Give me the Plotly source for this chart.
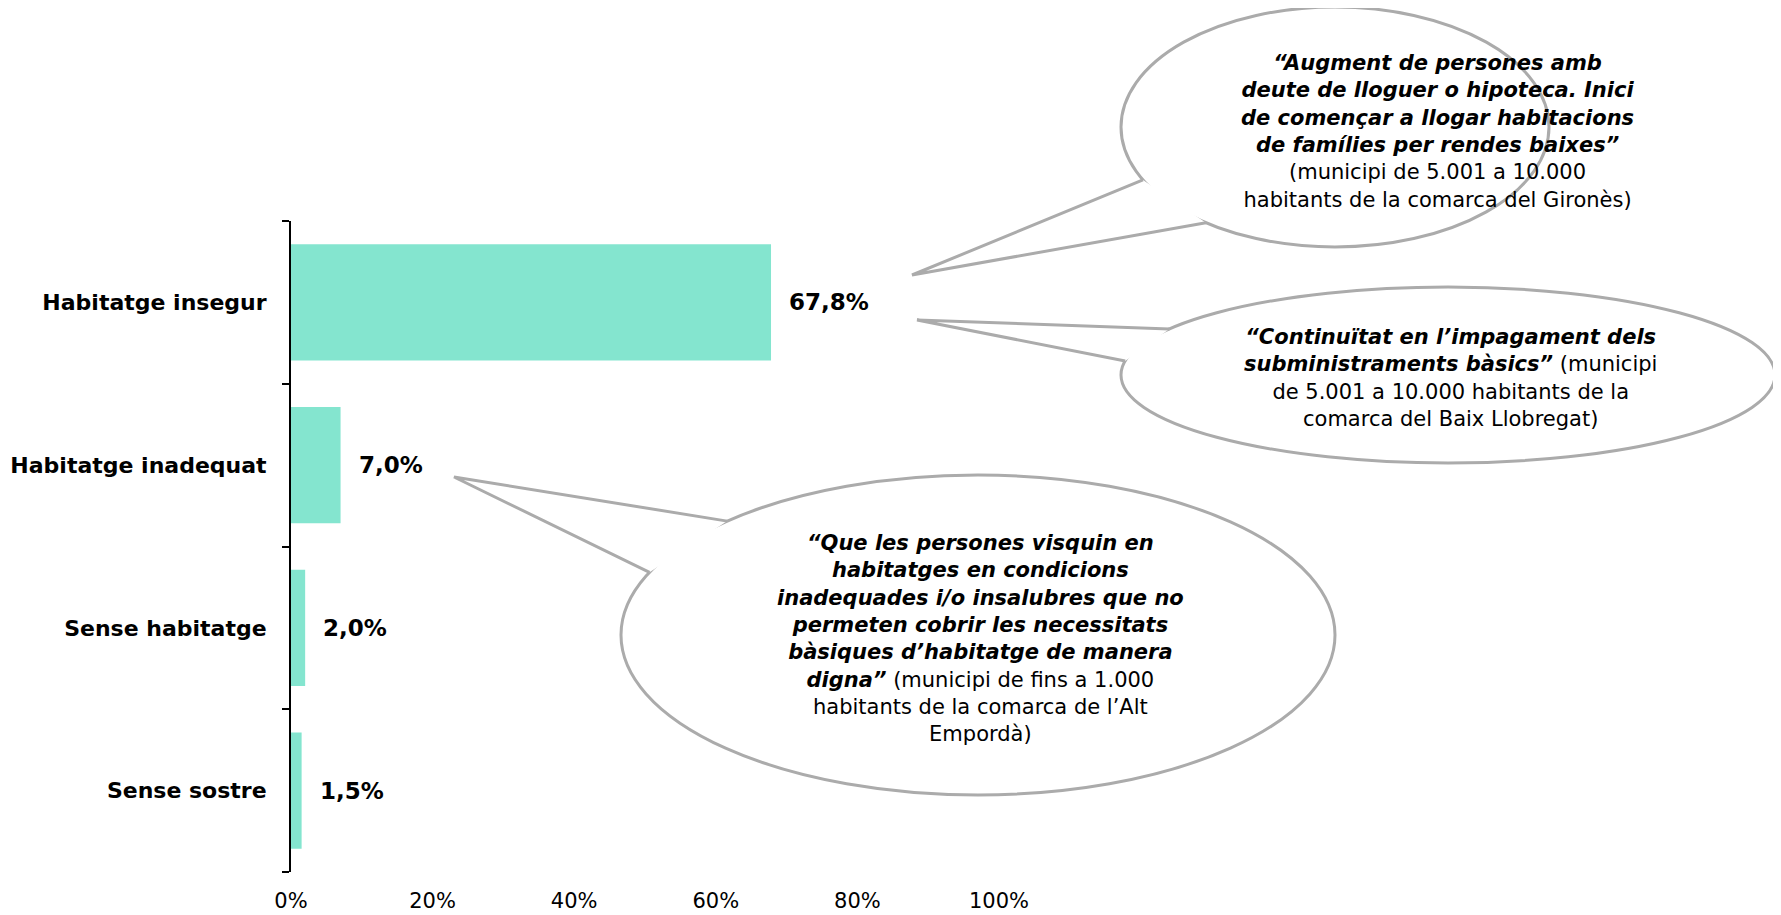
import math
import plotly.graph_objects as go

# ---------------- data ----------------
categories = ["Habitatge insegur", "Habitatge inadequat", "Sense habitatge", "Sense sostre"]
values = [67.8, 7.0, 2.0, 1.5]
value_labels = ["67,8%", "7,0%", "2,0%", "1,5%"]
x_tickvals = [0, 20, 40, 60, 80, 100]
x_ticktext = ["0%", "20%", "40%", "60%", "80%", "100%"]

quote1 = "“Augment de persones amb<br>deute de lloguer o hipoteca. Inici<br>de començar a llogar habitacions<br>de famílies per rendes baixes”"
source1 = "(municipi de 5.001 a 10.000<br>habitants de la comarca del Gironès)"
quote2 = "“Continuïtat en l’impagament dels<br>subministraments bàsics”"
source2 = " (municipi<br>de 5.001 a 10.000 habitants de la<br>comarca del Baix Llobregat)"
quote3 = ("“Que les persones visquin en<br>habitatges en condicions<br>inadequades i/o insalubres que no<br>"
          "permeten cobrir les necessitats<br>bàsiques d’habitatge de manera<br>digna”")
source3 = " (municipi de fins a 1.000<br>habitants de la comarca de l’Alt<br>Empordà)"

# ---------------- layout geometry ----------------
W, H = 1781, 915
OFF = 8  # page body offset
ML, MR, MT, MB = 291 - OFF, 782 + OFF, 221 - OFF, 43 + OFF
PW, PH = W - ML - MR, H - MT - MB

BAR_COLOR = "#84E5CF"
FONT = "DejaVu Sans"
BUBBLE_LINE = "#ababab"


def px(xp):
    return (xp - OFF - ML) / PW


def py(yp):
    return (H - MB - (yp - OFF)) / PH


fig = go.Figure()
fig.add_trace(go.Bar(
    x=values, y=categories, orientation="h",
    marker=dict(color=BAR_COLOR, line=dict(width=0)),
    hoverinfo="skip", showlegend=False,
))

annotations = []
for c, v, lab in zip(categories, values, value_labels):
    annotations.append(dict(
        x=v, y=c, xref="x", yref="y", text=f"<b>{lab}</b>", showarrow=False,
        xanchor="left", yanchor="middle", xshift=16,
        font=dict(family=FONT, size=23, color="#000000"),
    ))

shapes = []


def bubble(cx, cy, rx, ry, tip, b1, b2):
    shapes.append(dict(
        type="circle", xref="paper", yref="paper",
        x0=px(cx - rx), x1=px(cx + rx), y0=py(cy + ry), y1=py(cy - ry),
        fillcolor="#ffffff", line=dict(color=BUBBLE_LINE, width=3), layer="above",
    ))

    def proj(p):
        t = math.atan2((p[1] - cy) / ry, (p[0] - cx) / rx)
        return cx + rx * math.cos(t), cy + ry * math.sin(t)

    p1, p2 = proj(b1), proj(b2)
    path = (f"M {px(p1[0])},{py(p1[1])} L {px(tip[0])},{py(tip[1])} "
            f"L {px(p2[0])},{py(p2[1])}")
    shapes.append(dict(
        type="path", xref="paper", yref="paper", path=path,
        fillcolor="#ffffff", line=dict(color=BUBBLE_LINE, width=3), layer="above",
    ))


bubble(1335, 127, 214, 120, (912, 275), (1150, 178), (1215, 216))
bubble(1448, 375, 327, 88, (917, 320), (1170, 329), (1127, 361))
bubble(978, 635, 357, 160, (454, 477), (738, 526), (674, 577))


def bubble_text(xc, yc, quote, source):
    annotations.append(dict(
        x=px(xc), y=py(yc), xref="paper", yref="paper",
        text=f"<b><i>{quote}</i></b>{source}", showarrow=False,
        xanchor="center", yanchor="middle", align="center",
        font=dict(family=FONT, size=21, color="#000000"),
    ))


bubble_text(1437, 132, quote1, "<br>" + source1)
bubble_text(1450, 378, quote2, source2)
bubble_text(980, 638, quote3, source3)

fig.update_layout(
    width=W, height=H,
    margin=dict(l=ML, r=MR, t=MT, b=MB, pad=0, autoexpand=False),
    paper_bgcolor="#ffffff", plot_bgcolor="#ffffff",
    bargap=0.287,
    font=dict(family=FONT, color="#000000"),
    xaxis=dict(
        range=[0, 100], tickvals=x_tickvals, ticktext=x_ticktext,
        showgrid=False, zeroline=False, showline=False, ticks="",
        ticklabelstandoff=14, automargin=False,
        tickfont=dict(family=FONT, size=21, color="#000000"),
        fixedrange=True,
    ),
    yaxis=dict(
        categoryorder="array", categoryarray=categories[::-1],
        showgrid=False, zeroline=False, showline=True, linecolor="#000000", linewidth=2,
        ticks="outside", tickson="boundaries", ticklen=7, tickcolor="#000000", tickwidth=2,
        ticklabelstandoff=18, automargin=False,
        tickfont=dict(family=FONT, size=22, color="#000000", weight="bold"),
        fixedrange=True,
    ),
    shapes=shapes,
    annotations=annotations,
)

fig.write_html("out.html")
